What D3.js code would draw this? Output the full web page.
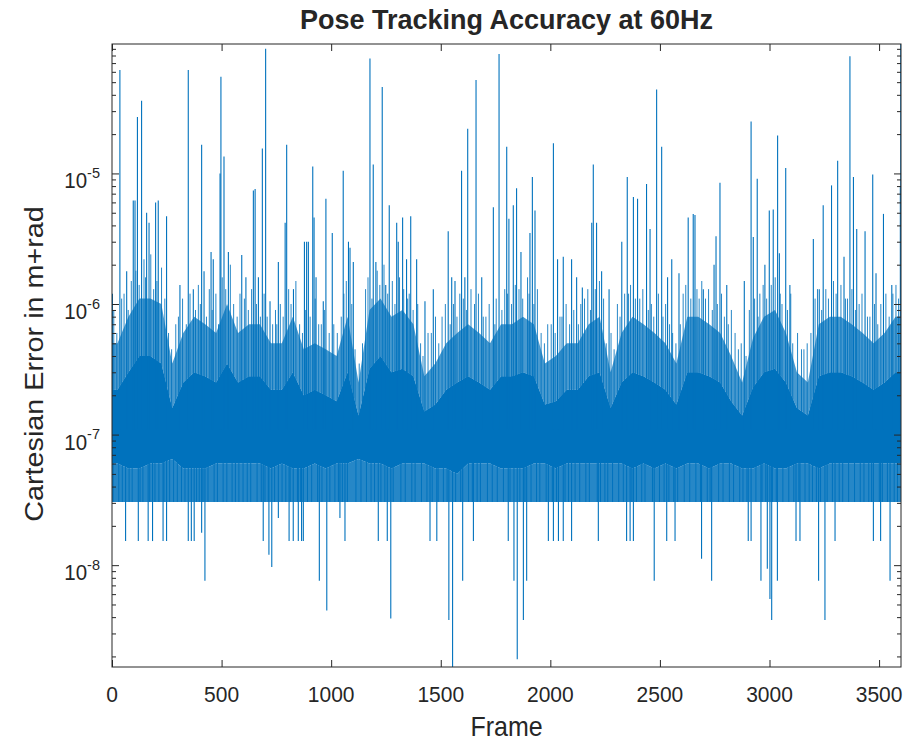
<!DOCTYPE html>
<html>
<head>
<meta charset="utf-8">
<script src="https://cdn.jsdelivr.net/npm/d3@7"></script>
<style>
  body { margin: 0; background: #fff; }
  text { font-family: "Liberation Sans", Arial, Helvetica, sans-serif; fill: #262626; }
</style>
</head>
<body>
<svg id="chart" width="920" height="743"></svg>
<script>
// ---------------- DATA ----------------
const frameMax = 3600;
const binSize = 50; // frames per envelope bin of the dense noise band

// upper edge of the semi-dense part of the band, one value per 50-frame bin
const hazeTop = [
  5e-7, 8e-7, 1.1e-6, 1.1e-6, 1.0e-6, 3.5e-7, 6e-7, 8e-7, 7e-7, 6e-7,
  1e-6, 6e-7, 7e-7, 7e-7, 5e-7, 5e-7, 8e-7, 4.5e-7, 5e-7, 4.5e-7,
  4e-7, 8e-7, 2.5e-7, 9e-7, 1.1e-6, 8e-7, 9e-7, 7e-7, 2.8e-7, 3.5e-7,
  5e-7, 6e-7, 7e-7, 6e-7, 5e-7, 7e-7, 7e-7, 8e-7, 7e-7, 3.5e-7,
  4e-7, 5e-7, 5e-7, 7e-7, 8e-7, 3e-7, 6e-7, 8e-7, 7e-7, 6e-7,
  5e-7, 3.5e-7, 8e-7, 8e-7, 7e-7, 6e-7, 4e-7, 2.5e-7, 5.5e-7, 8e-7,
  9e-7, 6e-7, 3e-7, 2.5e-7, 7e-7, 8e-7, 8e-7, 7e-7, 6e-7, 5e-7,
  6e-7, 8e-7
];
// upper edge of the solid core of the band
const coreTop = [
  2.2e-7, 3e-7, 4e-7, 4e-7, 3.5e-7, 1.6e-7, 2.5e-7, 3e-7, 2.8e-7, 2.5e-7,
  3.5e-7, 2.5e-7, 2.8e-7, 2.8e-7, 2.2e-7, 2.2e-7, 3e-7, 2e-7, 2.2e-7, 2e-7,
  1.8e-7, 3e-7, 1.4e-7, 3.2e-7, 4e-7, 3e-7, 3.2e-7, 2.8e-7, 1.5e-7, 1.7e-7,
  2.2e-7, 2.5e-7, 2.8e-7, 2.5e-7, 2.2e-7, 2.8e-7, 2.8e-7, 3e-7, 2.8e-7, 1.7e-7,
  1.8e-7, 2.2e-7, 2.2e-7, 2.8e-7, 3e-7, 1.6e-7, 2.5e-7, 3e-7, 2.8e-7, 2.5e-7,
  2.2e-7, 1.7e-7, 3e-7, 3e-7, 2.8e-7, 2.5e-7, 1.8e-7, 1.4e-7, 2.3e-7, 3e-7,
  3.2e-7, 2.5e-7, 1.6e-7, 1.4e-7, 2.8e-7, 3e-7, 3e-7, 2.8e-7, 2.5e-7, 2.2e-7,
  2.5e-7, 3e-7
];
// lower edge of the solid core of the band
const coreBottom = [
  6e-8, 5.5e-8, 5.5e-8, 6e-8, 6e-8, 6.5e-8, 5.5e-8, 5.5e-8, 5.5e-8, 6e-8,
  6e-8, 6e-8, 6e-8, 6e-8, 5.5e-8, 6e-8, 5.5e-8, 5.5e-8, 6e-8, 5.5e-8,
  6e-8, 6e-8, 6.5e-8, 6e-8, 6e-8, 5.5e-8, 6e-8, 6e-8, 6e-8, 5.5e-8,
  5.5e-8, 5e-8, 6e-8, 6e-8, 6e-8, 5.5e-8, 5.5e-8, 5.5e-8, 6e-8, 6e-8,
  5.5e-8, 6e-8, 6e-8, 6e-8, 6e-8, 6e-8, 6e-8, 5.5e-8, 6e-8, 5.5e-8,
  6e-8, 5.5e-8, 6e-8, 6e-8, 5.5e-8, 6e-8, 6e-8, 5.5e-8, 5.5e-8, 6e-8,
  5.5e-8, 5.5e-8, 6e-8, 6e-8, 5.5e-8, 6e-8, 6e-8, 6e-8, 6e-8, 6e-8,
  6e-8, 6e-8
];
// most samples never go below this quantised level
const noiseFloor = 3.05e-8;
// centre of the band (where single-sample excursions start)
const bandCentre = 1.1e-7;

// tall single-frame upward excursions
const spikeFrames = [
  2, 36, 67, 97, 105, 116, 135, 158, 169, 199, 211, 249, 310, 348, 371, 409, 420, 452, 462, 493,
  497, 511, 531, 592, 611, 645, 653, 668, 686, 701, 721, 759, 790, 797, 828, 878, 888, 896, 916, 922,
  931, 964, 976, 1005, 1055, 1079, 1086, 1101, 1177, 1192, 1204, 1233, 1249, 1265, 1299, 1306, 1326, 1344, 1363, 1390,
  1428, 1466, 1534, 1550, 1565, 1595, 1610, 1623, 1661, 1687, 1740, 1766, 1801, 1811, 1831, 1846, 1866, 1907, 1918, 1930,
  2014, 2033, 2059, 2097, 2120, 2146, 2189, 2196, 2211, 2234, 2268, 2326, 2351, 2379, 2398, 2439, 2455, 2485, 2508, 2535,
  2554, 2587, 2629, 2652, 2660, 2698, 2747, 2756, 2774, 2805, 2885, 2916, 2926, 2944, 2979, 2999, 3017, 3037, 3045, 3074,
  3093, 3200, 3227, 3245, 3283, 3311, 3340, 3367, 3383, 3398, 3436, 3471, 3486, 3520, 3558, 3597, 3599
];
const spikeValues = [
  1.2e-6, 6.2e-5, 1.78e-6, 6.2e-6, 6.2e-6, 2.7e-5, 3.6e-5, 5.0e-6, 4.2e-6, 6.0e-6, 6.2e-6, 4.7e-6, 1.4e-6, 6.2e-5, 1.3e-6, 1.66e-5, 1.78e-6, 2.5e-6, 2.2e-6, 1.0e-5,
  5.5e-5, 1.35e-5, 2.5e-6, 2.37e-6, 1.6e-6, 7.4e-6, 7.6e-6, 1.6e-6, 1.55e-5, 9.0e-5, 1.05e-6, 2.1e-6, 4.2e-6, 1.66e-5, 1.3e-6, 3.0e-6, 3.0e-6, 3.0e-6, 1.13e-5, 4.6e-6,
  1.6e-6, 1.05e-6, 6.4e-6, 3.5e-6, 1.05e-5, 3.0e-6, 2.7e-6, 2.1e-6, 7.6e-5, 1.17e-5, 2.1e-6, 4.6e-5, 1.4e-6, 5.7e-6, 4.2e-6, 3.0e-6, 4.6e-6, 2.2e-6, 4.7e-6, 2.2e-6,
  1.05e-6, 1.3e-6, 3.6e-6, 1.6e-6, 1.5e-6, 1.05e-5, 1.6e-6, 2.2e-5, 5.2e-5, 1.6e-6, 5.5e-6, 8.2e-5, 1.6e-5, 4.5e-6, 5.7e-6, 7.7e-6, 2.5e-6, 3.5e-6, 9.4e-6, 5.2e-6,
  1.7e-5, 2.2e-6, 2.3e-6, 2.2e-6, 1.6e-6, 1.34e-6, 4.2e-6, 1.17e-5, 4.2e-6, 1.78e-6, 1.3e-6, 3.0e-6, 9.4e-6, 6.6e-6, 6.4e-6, 8.3e-6, 3.75e-6, 4.4e-5, 1.6e-5, 1.6e-6,
  2.2e-6, 1.72e-6, 4.6e-6, 4.9e-6, 4.8e-6, 1.3e-6, 2.0e-6, 3.3e-6, 8.5e-6, 1.4e-6, 1.5e-6, 2.5e-5, 3.26e-6, 9.1e-6, 2.0e-6, 5.2e-6, 5.3e-6, 1.95e-5, 2.45e-6, 1.1e-5,
  1.4e-6, 3.15e-6, 1.3e-6, 5.7e-6, 8.1e-6, 1.25e-5, 2.3e-6, 7.9e-5, 9.4e-6, 3.75e-6, 3.6e-6, 9.8e-6, 1.72e-6, 4.9e-6, 1.4e-6, 8.0e-6, 9.8e-5
];

// smaller upward excursions that make the ragged top of the band
const midSpikeFrames = [
  8, 22, 44, 55, 74, 88, 109, 124, 146, 153, 177, 190, 205, 226, 241, 258, 272, 291, 303, 322,
  339, 356, 381, 394, 403, 431, 444, 457, 474, 486, 503, 519, 540, 555, 571, 584, 604, 622, 637, 659,
  677, 694, 708, 733, 746, 752, 768, 781, 806, 817, 839, 856, 869, 884, 904, 927, 943, 955, 969, 991,
  1012, 1028, 1046, 1058, 1069, 1094, 1109, 1128, 1143, 1157, 1168, 1186, 1210, 1222, 1241, 1258, 1279, 1291, 1312, 1331,
  1349, 1356, 1374, 1395, 1408, 1419, 1442, 1457, 1476, 1491, 1506, 1521, 1543, 1558, 1574, 1587, 1603, 1617, 1638, 1654,
  1672, 1694, 1706, 1721, 1747, 1753, 1779, 1792, 1805, 1823, 1840, 1857, 1874, 1896, 1903, 1925, 1941, 1958, 1973, 1988,
  2004, 2022, 2044, 2053, 2072, 2088, 2107, 2128, 2139, 2156, 2171, 2183, 2205, 2224, 2243, 2255, 2277, 2291, 2306, 2318,
  2339, 2357, 2366, 2388, 2408, 2422, 2447, 2461, 2472, 2493, 2514, 2526, 2544, 2558, 2573, 2593, 2606, 2618, 2641, 2669,
  2679, 2691, 2708, 2722, 2739, 2762, 2781, 2794, 2812, 2826, 2843, 2858, 2871, 2893, 2908, 2932, 2948, 2956, 2971, 2987,
  3008, 3026, 3049, 3057, 3082, 3097, 3106, 3128, 3146, 3157, 3172, 3189, 3208, 3219, 3238, 3257, 3269, 3292, 3304, 3326,
  3347, 3356, 3376, 3392, 3409, 3422, 3447, 3458, 3479, 3494, 3508, 3531, 3546, 3563, 3577, 3589
];
const midSpikeValues = [
  9e-7, 6e-7, 1.1e-6, 1.2e-6, 9e-7, 1.5e-6, 1.8e-6, 1.4e-6, 2.2e-6, 1.6e-6, 2.4e-6, 1.3e-6, 1.5e-6, 1.9e-6, 1.1e-6, 6e-7, 4.5e-7, 7e-7, 8e-7, 1.1e-6,
  7e-7, 1.2e-6, 9e-7, 1.4e-6, 1.0e-6, 8e-7, 1.3e-6, 9e-7, 1.2e-6, 7e-7, 1.6e-6, 1.3e-6, 2.0e-6, 1.0e-6, 8e-7, 1.2e-6, 1.1e-6, 9e-7, 1.3e-6, 1.0e-6,
  8e-7, 1.2e-6, 8e-7, 7e-7, 9e-7, 7e-7, 1.0e-6, 8e-7, 1.3e-6, 1.0e-6, 1.5e-6, 7e-7, 6e-7, 9e-7, 8e-7, 1.1e-6, 7e-7, 7e-7, 9e-7, 6e-7,
  7e-7, 6e-7, 8e-7, 1.2e-6, 1.5e-6, 1.0e-6, 4.5e-7, 3.5e-7, 5e-7, 1.3e-6, 1.6e-6, 1.1e-6, 1.8e-6, 1.4e-6, 2.0e-6, 1.2e-6, 1.5e-6, 1.0e-6, 1.6e-6, 1.3e-6,
  1.1e-6, 1.2e-6, 9e-7, 1.0e-6, 5e-7, 4e-7, 6e-7, 6e-7, 8e-7, 5e-7, 8e-7, 1.0e-6, 7e-7, 1.0e-6, 8e-7, 1.2e-6, 1.1e-6, 9e-7, 1.3e-6, 1.0e-6,
  1.2e-6, 8e-7, 8e-7, 1.0e-6, 7e-7, 1.1e-6, 9e-7, 1.3e-6, 1.2e-6, 1.0e-6, 1.4e-6, 1.3e-6, 1.1e-6, 1.6e-6, 1.2e-6, 1.0e-6, 1.3e-6, 6e-7, 5e-7, 7e-7,
  7e-7, 6e-7, 8e-7, 8e-7, 1.0e-6, 7e-7, 9e-7, 7e-7, 1.0e-6, 1.1e-6, 1.3e-6, 9e-7, 1.3e-6, 1.5e-6, 1.1e-6, 5e-7, 6e-7, 4.5e-7, 1.0e-6, 8e-7,
  1.2e-6, 1.2e-6, 1.4e-6, 1.1e-6, 1.1e-6, 1.3e-6, 9e-7, 1.0e-6, 8e-7, 1.2e-6, 8e-7, 1.0e-6, 7e-7, 6e-7, 5e-7, 7e-7, 1.2e-6, 1.4e-6, 1.1e-6, 1.3e-6,
  1.1e-6, 1.5e-6, 1.1e-6, 1.3e-6, 9e-7, 1.0e-6, 1.2e-6, 8e-7, 7e-7, 9e-7, 6e-7, 4.5e-7, 5e-7, 4e-7, 9e-7, 1.1e-6, 8e-7, 1.2e-6, 1.4e-6, 1.1e-6,
  1.4e-6, 1.6e-6, 1.2e-6, 1.0e-6, 9e-7, 1.2e-6, 5e-7, 6e-7, 4.5e-7, 4.5e-7, 5e-7, 6e-7, 1.1e-6, 1.3e-6, 9e-7, 1.3e-6, 1.1e-6, 1.5e-6, 1.2e-6, 1.4e-6,
  1.1e-6, 1.1e-6, 1.3e-6, 9e-7, 1.0e-6, 1.2e-6, 8e-7, 8e-7, 1.0e-6, 7e-7, 1.0e-6, 1.2e-6, 8e-7, 1.2e-6, 1.4e-6, 1.1e-6
];

// frames where the signal drops onto the noise floor
const floorFrames = [
  5, 31, 47, 78, 92, 128, 141, 172, 196, 214, 237, 263, 281, 298, 317, 333, 386, 398, 415, 438,
  466, 481, 507, 524, 548, 563, 579, 598, 617, 633, 662, 681, 698, 713, 742, 776, 793, 813, 846, 861,
  892, 911, 938, 958, 994, 1017, 1033, 1051, 1074, 1113, 1136, 1161, 1182, 1198, 1227, 1245, 1283, 1318, 1338, 1368,
  1383, 1412, 1437, 1461, 1488, 1512, 1529, 1568, 1591, 1627, 1644, 1666, 1681, 1713, 1735, 1758, 1786, 1816, 1861, 1884,
  1912, 1937, 1952, 1981, 2009, 2028, 2067, 2083, 2113, 2134, 2162, 2178, 2214, 2229, 2249, 2262, 2284, 2312, 2333, 2372,
  2393, 2417, 2432, 2466, 2498, 2519, 2541, 2563, 2581, 2611, 2636, 2664, 2685, 2716, 2729, 2768, 2788, 2817, 2836, 2864,
  2879, 2897, 2938, 2966, 2983, 3013, 3031, 3061, 3088, 3111, 3134, 3162, 3181, 3196, 3214, 3233, 3263, 3287, 3318, 3334,
  3361, 3388, 3414, 3431, 3453, 3466, 3501, 3515, 3538, 3569, 3584
];

// single-frame downward excursions below the noise floor
const dipFrames = [
  62, 120, 165, 185, 233, 249, 348, 362, 375, 409, 424, 690, 716, 729, 759, 808, 827, 850, 873, 865,
  946, 980, 1040, 1063, 1215, 1256, 1272, 1451, 1482, 1537, 1554, 1600, 1649, 1808, 1834, 1849, 1877, 1892, 1991, 2014,
  2037, 2059, 2097, 2219, 2348, 2364, 2379, 2474, 2531, 2569, 2690, 2736, 2903, 2916, 2961, 2990, 3002, 3010, 3036, 3121,
  3139, 3224, 3253, 3299, 3474, 3507, 3550
];
const dipValues = [
  1.53e-8, 1.53e-8, 1.53e-8, 1.53e-8, 1.53e-8, 1.53e-8, 1.53e-8, 1.53e-8, 1.53e-8, 1.77e-8, 7.6e-9, 1.53e-8, 1.2e-8, 9.7e-9, 2.3e-8, 1.53e-8, 1.53e-8, 1.53e-8, 1.53e-8, 1.53e-8,
  7.6e-9, 4.5e-9, 2.3e-8, 1.53e-8, 1.53e-8, 1.53e-8, 3.9e-9, 1.53e-8, 1.53e-8, 3.8e-9, 1.66e-9, 7.6e-9, 1.53e-8, 1.53e-8, 7.6e-9, 1.9e-9, 3.8e-9, 7.6e-9, 1.53e-8, 1.53e-8,
  1.53e-8, 1.53e-8, 1.53e-8, 1.53e-8, 1.53e-8, 1.53e-8, 1.53e-8, 7.6e-9, 1.53e-8, 1.53e-8, 1.12e-8, 7.6e-9, 1.53e-8, 1.53e-8, 7.6e-9, 9.4e-9, 5.5e-9, 3.8e-9, 7.6e-9, 1.53e-8,
  1.53e-8, 7.6e-9, 3.8e-9, 1.53e-8, 1.53e-8, 1.53e-8, 7.6e-9
];

const xTickValues = [0, 500, 1000, 1500, 2000, 2500, 3000, 3500];
const yTickValues = [1e-8, 1e-7, 1e-6, 1e-5];
const yTickExponents = ["-8", "-7", "-6", "-5"];
const titleText = "Pose Tracking Accuracy at 60Hz";
const xLabelText = "Frame";
const yLabelText = "Cartesian Error in m+rad";

// ---------------- LAYOUT ----------------
const plot = { left: 112, right: 901, top: 44, bottom: 667 };
const lineColor = "#0072BD";
const axisColor = "#262626";

const svg = d3.select("#chart");

const x = d3.scaleLinear().domain([0, frameMax]).range([plot.left, plot.right]);
const yDomain = [d3.min(dipValues), d3.max(spikeValues)];
const y = d3.scaleLog().domain(yDomain).range([plot.bottom, plot.top]);

svg.append("defs").append("clipPath").attr("id", "clip")
  .append("rect")
  .attr("x", plot.left).attr("y", plot.top)
  .attr("width", plot.right - plot.left).attr("height", plot.bottom - plot.top);

const gPlot = svg.append("g").attr("clip-path", "url(#clip)");

// band rows: bin centres plus the two ends holding the edge values
const bins = hazeTop.map((h, i) => ({
  f: i * binSize + binSize / 2, haze: h, top: coreTop[i], bot: coreBottom[i]
}));
const bandRows = [{ ...bins[0], f: 0 }, ...bins, { ...bins[bins.length - 1], f: frameMax }];

const upperHaze = d3.area().x(d => x(d.f)).y0(d => y(d.top)).y1(d => y(d.haze));
const lowerHaze = d3.area().x(d => x(d.f)).y0(() => y(noiseFloor)).y1(d => y(d.bot));
const coreArea = d3.area().x(d => x(d.f)).y0(d => y(d.bot)).y1(d => y(d.top));

function vLines(g, frames, values, width, opacity) {
  g.append("g").selectAll("line")
    .data(frames.map((f, i) => ({ f, v: values[i] })))
    .join("line")
    .attr("x1", d => x(d.f)).attr("x2", d => x(d.f))
    .attr("y1", y(bandCentre)).attr("y2", d => y(d.v))
    .attr("stroke", lineColor).attr("stroke-width", width)
    .attr("stroke-opacity", opacity);
}

gPlot.append("path").datum(bandRows).attr("d", upperHaze)
  .attr("fill", lineColor).attr("fill-opacity", 0.72);
gPlot.append("path").datum(bandRows).attr("d", lowerHaze)
  .attr("fill", lineColor).attr("fill-opacity", 0.85);

vLines(gPlot, floorFrames, floorFrames.map(() => noiseFloor), 1, 1);
vLines(gPlot, dipFrames, dipValues, 1.1, 1);
vLines(gPlot, midSpikeFrames, midSpikeValues, 1, 0.85);

gPlot.append("path").datum(bandRows).attr("d", coreArea).attr("fill", lineColor);

vLines(gPlot, spikeFrames, spikeValues, 1.1, 1);

// ---------------- AXES ----------------
const minorY = [];
for (let e = Math.floor(Math.log10(yDomain[0])); e <= Math.ceil(Math.log10(yDomain[1])); e++) {
  for (let k = 2; k <= 9; k++) {
    const v = k * Math.pow(10, e);
    if (v >= yDomain[0] && v <= yDomain[1]) minorY.push(v);
  }
}

function styleAxis(g) {
  g.select(".domain").remove();
  g.selectAll("line").attr("stroke", axisColor).attr("stroke-width", 1);
}

svg.append("g").attr("transform", `translate(0,${plot.bottom})`)
  .call(d3.axisBottom(x).tickValues(xTickValues).tickSize(-7).tickFormat(""))
  .call(styleAxis);
svg.append("g").attr("transform", `translate(0,${plot.top})`)
  .call(d3.axisTop(x).tickValues(xTickValues).tickSize(-7).tickFormat(""))
  .call(styleAxis);
svg.append("g").attr("transform", `translate(${plot.left},0)`)
  .call(d3.axisLeft(y).tickValues(yTickValues).tickSize(-7).tickFormat(""))
  .call(styleAxis);
svg.append("g").attr("transform", `translate(${plot.left},0)`)
  .call(d3.axisLeft(y).tickValues(minorY).tickSize(-4).tickFormat(""))
  .call(styleAxis);
svg.append("g").attr("transform", `translate(${plot.right},0)`)
  .call(d3.axisRight(y).tickValues(yTickValues).tickSize(-7).tickFormat(""))
  .call(styleAxis);
svg.append("g").attr("transform", `translate(${plot.right},0)`)
  .call(d3.axisRight(y).tickValues(minorY).tickSize(-4).tickFormat(""))
  .call(styleAxis);

svg.append("rect")
  .attr("x", plot.left).attr("y", plot.top)
  .attr("width", plot.right - plot.left).attr("height", plot.bottom - plot.top)
  .attr("fill", "none").attr("stroke", axisColor).attr("stroke-width", 1);

// x tick labels
svg.append("g").selectAll("g")
  .data(xTickValues)
  .join("g")
  .attr("transform", d => `translate(${x(d)},702) scale(1,1.08)`)
  .append("text")
  .attr("text-anchor", "middle")
  .attr("font-size", 21)
  .text(d => d);

// y tick labels (10 with superscript exponent)
const yl = svg.append("g").selectAll("g")
  .data(yTickValues.map((v, i) => ({ v, e: yTickExponents[i] })))
  .join("g")
  .attr("transform", d => `translate(100,${y(d.v) + 15}) scale(1,1.05)`)
  .append("text")
  .attr("text-anchor", "end");
yl.append("tspan").attr("font-size", 20.5).text("10");
yl.append("tspan").attr("font-size", 14.5).attr("dy", -10).text(d => d.e);

// axis labels
svg.append("g")
  .attr("transform", `translate(${(plot.left + plot.right) / 2},736) scale(1,1.1)`)
  .append("text").attr("text-anchor", "middle").attr("font-size", 25)
  .text(xLabelText);

svg.append("g")
  .attr("transform", `translate(43,364) scale(1,1.15) rotate(-90)`)
  .append("text").attr("text-anchor", "middle").attr("font-size", 25)
  .text(yLabelText);

// title
svg.append("g")
  .attr("transform", `translate(${(plot.left + plot.right) / 2},29) scale(1,1.03)`)
  .append("text").attr("text-anchor", "middle").attr("font-size", 27)
  .attr("font-weight", "bold").attr("fill", "#000")
  .text(titleText);
</script>
</body>
</html>
